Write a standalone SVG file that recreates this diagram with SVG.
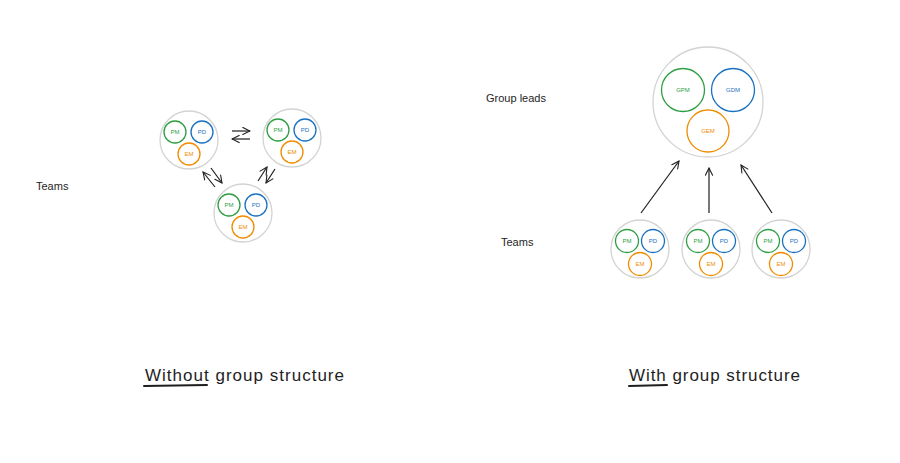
<svg xmlns="http://www.w3.org/2000/svg" width="900" height="463" viewBox="0 0 900 463">
<defs>
<style>
.outer{fill:#fff;stroke:#d3d3d3;stroke-width:1.3}
.g{fill:none;stroke:#2f9e44;stroke-width:1.3}
.b{fill:none;stroke:#1971c2;stroke-width:1.3}
.o{fill:none;stroke:#f08c00;stroke-width:1.3}
.lbl{font-family:"Liberation Sans",Arial,sans-serif;font-size:6px;text-anchor:middle;dominant-baseline:central}
.tg{fill:#2f9e44}.tb{fill:#1971c2}.to{fill:#f08c00}
.side{font-family:"Liberation Sans",Arial,sans-serif;font-size:11px;fill:#1e1e1e}
.title{font-family:"Liberation Sans",Arial,sans-serif;font-size:17px;fill:#1e1e1e}
.arr{stroke:#1e1e1e;stroke-width:1.2;fill:none;marker-end:url(#ah)}
.ul{stroke:#1e1e1e;stroke-width:2;stroke-linecap:round}
</style>
<marker id="ah" viewBox="0 0 10 10" refX="9" refY="5" markerWidth="9" markerHeight="9" orient="auto" markerUnits="userSpaceOnUse">
<path d="M1,1 L9,5 L1,9" fill="none" stroke="#1e1e1e" stroke-width="1.2" stroke-linecap="round"/>
</marker>
</defs>
<rect width="900" height="463" fill="#fff"/>

<g id="team-a" transform="translate(189,140)">
<circle class="outer" r="29"/>
<circle class="g" cx="-14" cy="-8" r="11"/><text class="lbl tg" x="-14" y="-8">PM</text>
<circle class="b" cx="13" cy="-8" r="11"/><text class="lbl tb" x="13" y="-8">PD</text>
<circle class="o" cx="0" cy="14" r="11"/><text class="lbl to" x="0" y="14">EM</text>
</g>
<g id="team-b" transform="translate(292,138)">
<circle class="outer" r="29"/>
<circle class="g" cx="-14" cy="-8" r="11"/><text class="lbl tg" x="-14" y="-8">PM</text>
<circle class="b" cx="13" cy="-8" r="11"/><text class="lbl tb" x="13" y="-8">PD</text>
<circle class="o" cx="0" cy="14" r="11"/><text class="lbl to" x="0" y="14">EM</text>
</g>
<g id="team-c" transform="translate(243,213)">
<circle class="outer" r="29"/>
<circle class="g" cx="-14" cy="-8" r="11"/><text class="lbl tg" x="-14" y="-8">PM</text>
<circle class="b" cx="13" cy="-8" r="11"/><text class="lbl tb" x="13" y="-8">PD</text>
<circle class="o" cx="0" cy="14" r="11"/><text class="lbl to" x="0" y="14">EM</text>
</g>

<g id="group-leads">
<circle class="outer" cx="708" cy="102" r="55"/>
<circle class="g" cx="683" cy="90" r="21.5"/><text class="lbl tg" x="683" y="90">GPM</text>
<circle class="b" cx="733" cy="90" r="21.5"/><text class="lbl tb" x="733" y="90">GDM</text>
<circle class="o" cx="708" cy="131" r="21"/><text class="lbl to" x="708" y="131">GEM</text>
</g>
<g id="team-1" transform="translate(640,249)">
<circle class="outer" r="29"/>
<circle class="g" cx="-13" cy="-8" r="11.5"/><text class="lbl tg" x="-13" y="-8">PM</text>
<circle class="b" cx="13" cy="-8" r="11.5"/><text class="lbl tb" x="13" y="-8">PD</text>
<circle class="o" cx="0" cy="15" r="11.5"/><text class="lbl to" x="0" y="15">EM</text>
</g>
<g id="team-2" transform="translate(711,249)">
<circle class="outer" r="29"/>
<circle class="g" cx="-13" cy="-8" r="11.5"/><text class="lbl tg" x="-13" y="-8">PM</text>
<circle class="b" cx="13" cy="-8" r="11.5"/><text class="lbl tb" x="13" y="-8">PD</text>
<circle class="o" cx="0" cy="15" r="11.5"/><text class="lbl to" x="0" y="15">EM</text>
</g>
<g id="team-3" transform="translate(781,249)">
<circle class="outer" r="29"/>
<circle class="g" cx="-13" cy="-8" r="11.5"/><text class="lbl tg" x="-13" y="-8">PM</text>
<circle class="b" cx="13" cy="-8" r="11.5"/><text class="lbl tb" x="13" y="-8">PD</text>
<circle class="o" cx="0" cy="15" r="11.5"/><text class="lbl to" x="0" y="15">EM</text>
</g>

<g id="connectors">
<line class="arr" x1="232" y1="131" x2="250" y2="131"/>
<line class="arr" x1="250" y1="139" x2="232" y2="139"/>
<line class="arr" x1="215" y1="187" x2="203" y2="172"/>
<line class="arr" x1="211" y1="168" x2="222" y2="183"/>
<line class="arr" x1="258" y1="181" x2="267" y2="167"/>
<line class="arr" x1="275" y1="169" x2="266" y2="183"/>
<line class="arr" x1="641" y1="213" x2="679" y2="161"/>
<line class="arr" x1="709" y1="213" x2="709" y2="168"/>
<line class="arr" x1="772" y1="213" x2="741" y2="165"/>
</g>

<text class="side" x="36" y="190">Teams</text>
<text class="side" x="486" y="102">Group leads</text>
<text class="side" x="501" y="246">Teams</text>

<text class="title" x="145" y="381" textLength="199">Without group structure</text>
<line class="ul" x1="144" y1="386" x2="207" y2="385"/>
<text class="title" x="629" y="381" textLength="171">With group structure</text>
<line class="ul" x1="629" y1="386" x2="667" y2="385"/>
</svg>
